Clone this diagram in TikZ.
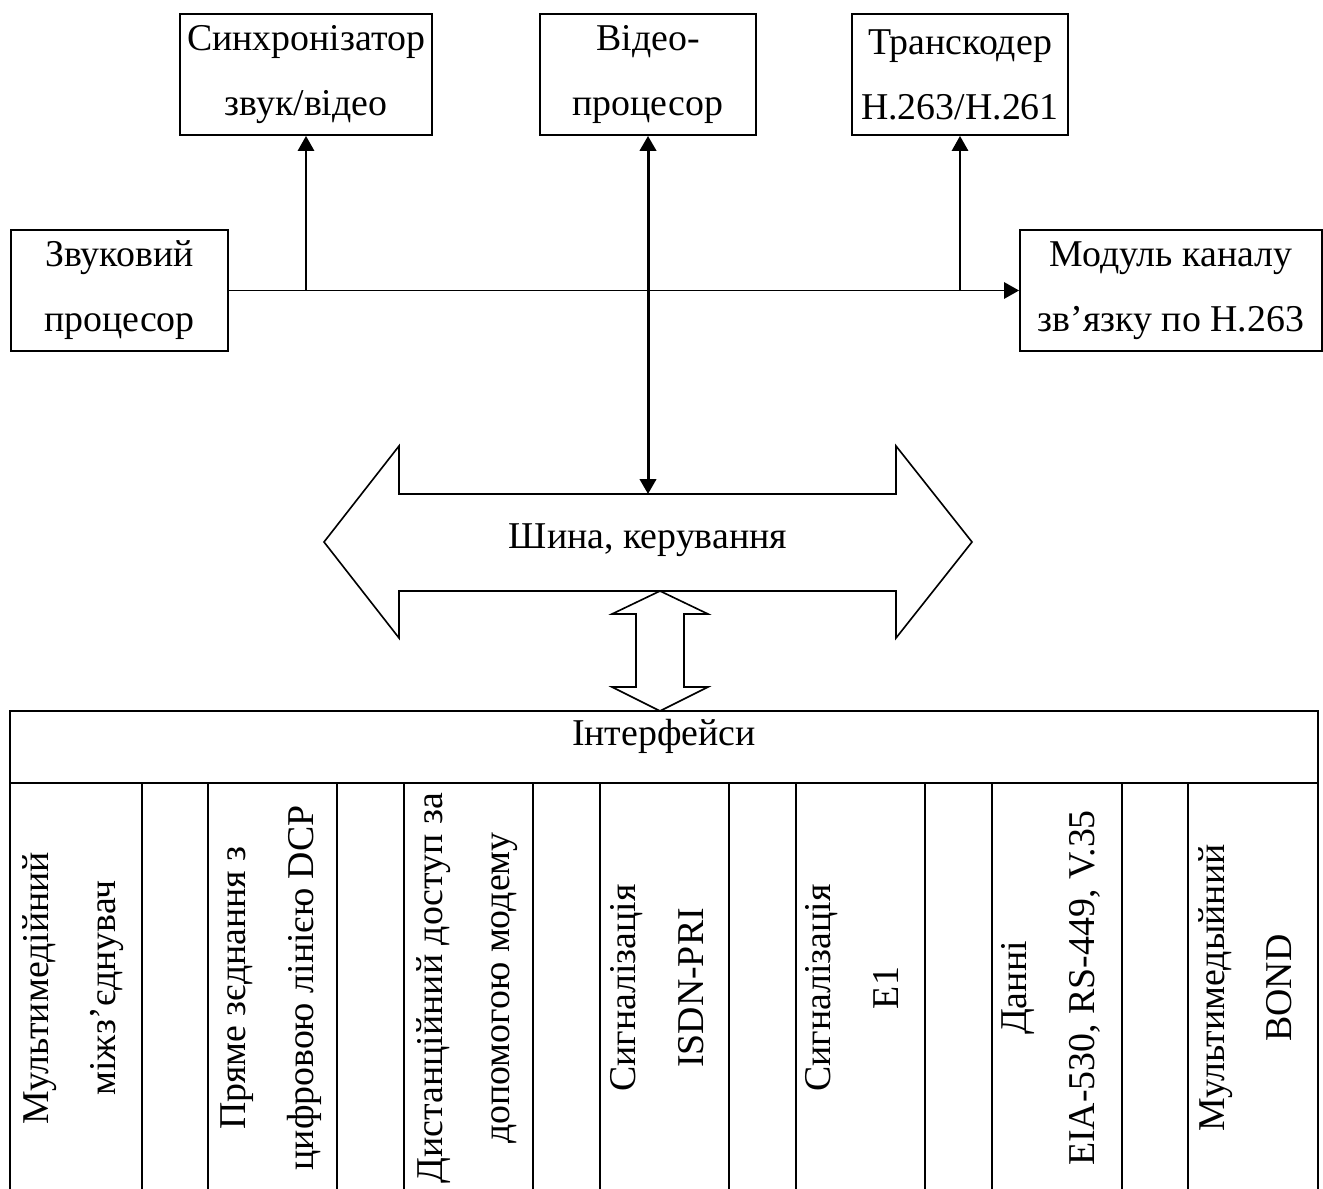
\documentclass[tikz,border=0pt]{standalone}
\usepackage{fontspec}
\setmainfont{Liberation Serif}
\usetikzlibrary{arrows.meta,positioning}

\newcommand{\pxu}{0.013cm}

\begin{document}
\begin{tikzpicture}[
  x=\pxu, y=-\pxu,
  every node/.style={font=\fontsize{14}{24}\selectfont},
  blok/.style={draw, rectangle, line width=0.7pt, align=center, inner sep=0pt, minimum height=121*\pxu},
  coltext/.style={rotate=90, align=center, inner sep=0pt, font=\fontsize{14}{25}\selectfont},
  link/.style={line width=0.7pt, -{Triangle[length=5.5pt,width=6pt]}},
  shape line/.style={line width=0.6pt, line join=miter}
]
\useasboundingbox (0,0) rectangle (1323,1189);

% blocks
\node[blok, minimum width=252*\pxu] (sync) at (306,74.5) {Синхронізатор\\звук/відео};
\node[blok, minimum width=216*\pxu] (video) at (648,74.5) {Відео-\\процесор};
\node[blok, minimum width=216*\pxu] (trans) at (960,74.5) {Транскодер\\H.263/H.261};
\node[blok, minimum width=217*\pxu] (sound) at (119.5,290.5) {Звуковий\\процесор};
\node[blok, minimum width=302*\pxu] (modul) at (1171,290.5) {Модуль каналу\\зв’язку по H.263};

% connectors
\draw[link] (sound.east) -- (modul.west);
\draw[link] (sound.east -| sync.south) -- (sync.south);
\draw[link] (sound.east -| trans.south) -- (trans.south);
\coordinate (bustop) at (648,494);
\draw[line width=1.1pt, {Triangle[length=5.5pt,width=6pt]}-{Triangle[length=5.5pt,width=6pt]}] (video.south) -- (bustop);

% bus
\draw[shape line] (324,542) -- (399,446) -- (399,494) -- (896,494) -- (896,446) -- (972,542)
  -- (896,638) -- (896,591) -- (399,591) -- (399,638) -- cycle;
\node[anchor=base] (bus) at (648,548) {Шина, керування};

% link bus - interfaces
\draw[shape line] (660,591) -- (708,614) -- (684,614) -- (684,687) -- (708,687) -- (660,711)
  -- (612,687) -- (636,687) -- (636,614) -- (612,614) -- cycle;

% interfaces table
\draw[line width=0.7pt] (10,1189) -- (10,711) -- (1318,711) -- (1318,1189);
\draw[line width=0.7pt] (10,783) -- (1318,783);
\foreach \x in {142,208,337,404,533,600,729,796,925,992,1122,1188}
  \draw[line width=0.7pt] (\x,783) -- (\x,1189);
\node[anchor=base] (intf) at (664,745) {Інтерфейси};

\node[coltext] (c1) at (73,988) {Мультимедійний\\міжз’єднувач};
\node[coltext] (c2) at (271,988) {Пряме зєднання з\\цифровою лінією DCP};
\node[coltext] (c3) at (467,988) {Дистанційний доступ за\\допомогою модему};
\node[coltext] (c4) at (657,988) {Сигналізація\\ISDN-PRI};
\node[coltext] (c5) at (852,988) {Сигналізація\\E1};
\node[coltext] (c6) at (1051,988) {Данні\\EIA-530, RS-449, V.35};
\node[coltext] (c7) at (1245,988) {Мультимедыйний\\BOND};
\end{tikzpicture}
\end{document}
